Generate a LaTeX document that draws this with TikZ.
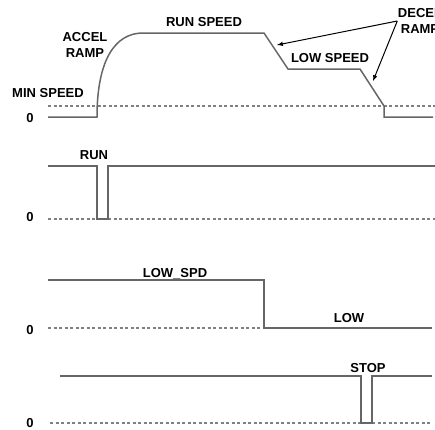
\documentclass[tikz,border=0pt]{standalone}
\usepackage{fontspec}
\setmainfont{Liberation Sans}
\usetikzlibrary{positioning}

\tikzset{
  lbl/.style={font=\fontsize{13}{16}\selectfont\bfseries, inner sep=0.5pt, align=center},
  sig/.style={draw=black!60, line width=1.5pt, line join=miter},
  base/.style={draw=black!50, dash pattern=on 3pt off 2.5pt, line width=1.1pt},
  pointer/.style={-latex, line width=1pt},
}

\begin{document}
\begin{tikzpicture}[x=1pt,y=-1pt]
\useasboundingbox (0,0) rectangle (435,429);

% speed profile
\draw[base] (48,106) -- (435,106);
\draw[sig] (48,117) -- (97,117) .. controls (97,60) and (115,33) .. (143,33) -- (264,33) -- (288,69) -- (360,69) -- (384,106) -- (384,117) -- (433,117);
\coordinate (rampA) at (277,45);
\coordinate (rampB) at (373,81);
\node[lbl] (zeroA) at (30,118) {0};
\node[lbl] (minspd) at (48,93) {MIN SPEED};
\node[lbl] (accel) at (85,45) {ACCEL\\RAMP};
\node[lbl] (runspd) at (204,22) {RUN SPEED};
\node[lbl] (lowspd) at (330,58) {LOW SPEED};
\node[lbl] (decel) at (420,21) {DECEL\\RAMP};
\draw[pointer] (decel.west) -- (rampA);
\draw[pointer] (decel.west) -- (rampB);

% RUN input
\draw[base] (48,219) -- (97,219);
\draw[base] (108,219) -- (435,219);
\draw[sig] (48,166) -- (97,166) -- (97,219) -- (108,219) -- (108,166) -- (435,166);
\node[lbl] (zeroB) at (30,217) {0};
\node[lbl] (run) at (94,155) {RUN};

% LOW_SPD input
\draw[base] (48,328) -- (264,328);
\draw[sig] (48,280) -- (264,280) -- (264,328) -- (432,328);
\node[lbl] (zeroC) at (30,330) {0};
\node[lbl, text depth=0pt] (lowin) at (175,273) {LOW\_SPD};
\node[lbl] (low) at (349,318) {LOW};

% STOP input
\draw[base] (50,423) -- (361,423);
\draw[base] (372,423) -- (432,423);
\draw[sig] (60,376) -- (361,376) -- (361,423) -- (372,423) -- (372,376) -- (432,376);
\node[lbl] (zeroD) at (30,423) {0};
\node[lbl] (stop) at (368,368) {STOP};

\end{tikzpicture}
\end{document}
